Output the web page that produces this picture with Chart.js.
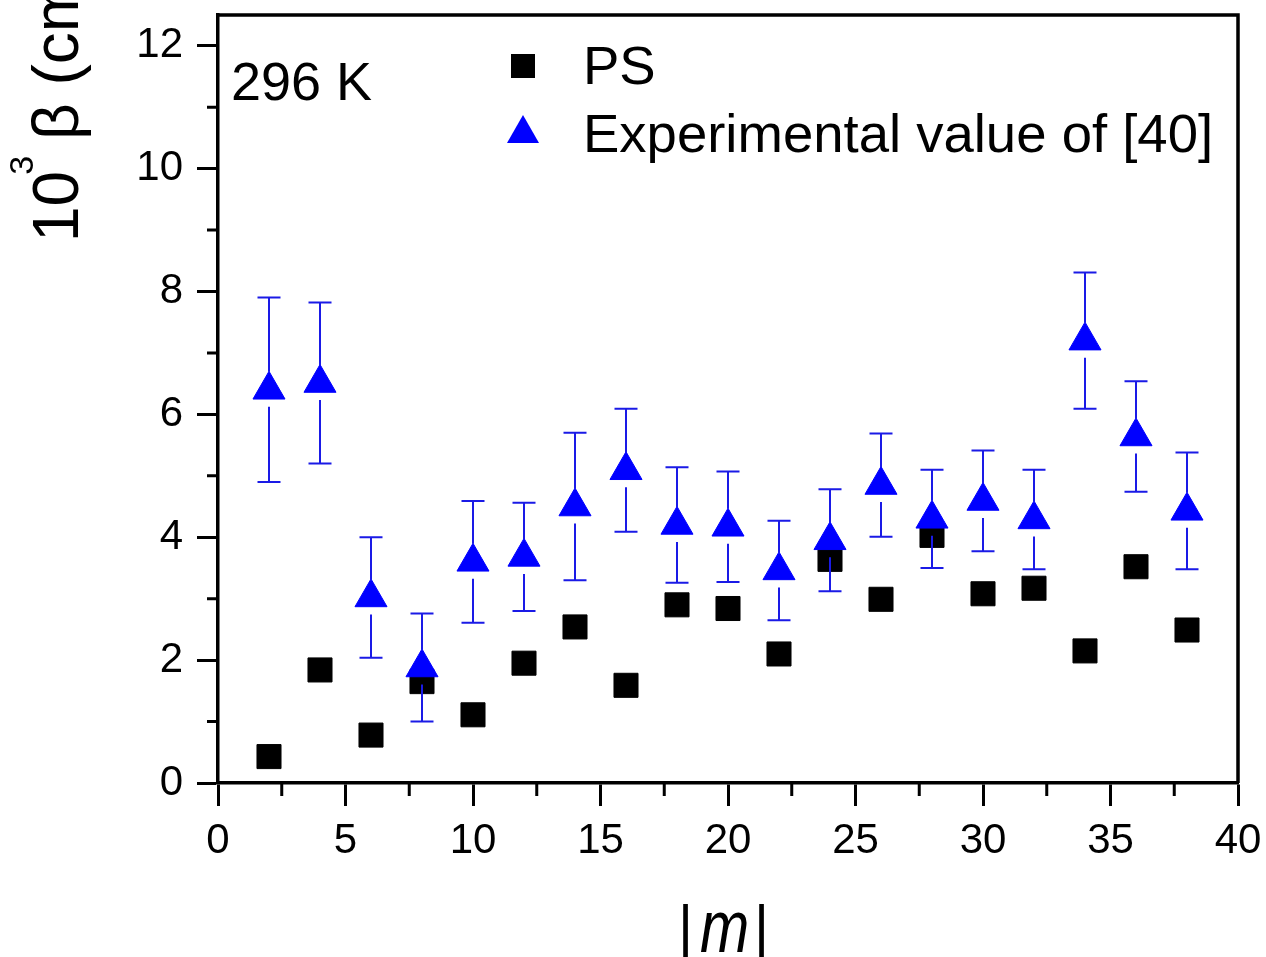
<!DOCTYPE html>
<html>
<head>
<meta charset="utf-8">
<title>beta vs |m|</title>
<script src="https://cdn.jsdelivr.net/npm/chart.js@4.4.0/dist/chart.umd.min.js"></script>
<style>
    html, body { margin: 0; padding: 0; background: #fff; }
    #wrap { width: 1266px; height: 957px; }
</style>
</head>
<body>
<div id="wrap"><canvas id="betaChart" width="1266" height="957"></canvas></div>
<script>
// |m| values and line-broadening coefficients (10^3 beta)
const mValues = [2, 4, 6, 8, 10, 12, 14, 16, 18, 20, 22, 24, 26, 28, 30, 32, 34, 36, 38];
const psBeta = [0.43, 1.84, 0.78, 1.65, 1.11, 1.95, 2.54, 1.59, 2.90, 2.84, 2.10, 3.64, 2.99, 4.03, 3.08, 3.17, 2.15, 3.52, 2.49];
const expBeta = [6.40, 6.51, 3.02, 1.88, 3.60, 3.68, 4.50, 5.09, 4.20, 4.17, 3.46, 3.95, 4.85, 4.30, 4.59, 4.29, 7.20, 5.64, 4.43];
const expError = [1.50, 1.31, 0.98, 0.88, 0.99, 0.88, 1.20, 1.00, 0.94, 0.90, 0.81, 0.83, 0.84, 0.80, 0.82, 0.81, 1.11, 0.90, 0.95];

// axis ticks
const xTicks = [0, 5, 10, 15, 20, 25, 30, 35, 40];
const xMinorTicks = [2.5, 7.5, 12.5, 17.5, 22.5, 27.5, 32.5, 37.5];
const yTicks = [0, 2, 4, 6, 8, 10, 12];
const yMinorTicks = [1, 3, 5, 7, 9, 11];

const seriesLabels = ['PS', 'Experimental value of [40]'];
const tempLabel = '296 K';

const FONT = '"Liberation Sans", Arial, sans-serif';
const BLUE = '#0000ff';

// error bars, drawn from the y scale
const errorBars = {
    id: 'errorBars',
    afterDatasetsDraw(chart) {
        const { ctx, scales: { x, y } } = chart;
        ctx.save();
        ctx.strokeStyle = '#1a1ae6';
        ctx.lineWidth = 2;
        mValues.forEach((m, i) => {
            const px = x.getPixelForValue(m);
            const pv = y.getPixelForValue(expBeta[i]);
            const pt = y.getPixelForValue(expBeta[i] + expError[i]);
            const pb = y.getPixelForValue(expBeta[i] - expError[i]);
            ctx.beginPath();
            ctx.moveTo(px, pt);
            ctx.lineTo(px, pv - 18);
            ctx.moveTo(px, pv + 17);
            ctx.lineTo(px, pb);
            ctx.moveTo(px - 11.5, pt);
            ctx.lineTo(px + 11.5, pt);
            ctx.moveTo(px - 11.5, pb);
            ctx.lineTo(px + 11.5, pb);
            ctx.stroke();
        });
        ctx.restore();
    }
};

// minor ticks, top/right frame, legend and titles
const decorations = {
    id: 'decorations',
    afterDraw(chart) {
        const { ctx, chartArea: a, scales: { x, y } } = chart;
        ctx.save();
        ctx.strokeStyle = '#000';

        // minor ticks
        ctx.lineWidth = 3;
        ctx.beginPath();
        xMinorTicks.forEach(v => {
            const px = x.getPixelForValue(v);
            ctx.moveTo(px, a.bottom);
            ctx.lineTo(px, a.bottom + 13);
        });
        yMinorTicks.forEach(v => {
            const py = y.getPixelForValue(v);
            ctx.moveTo(a.left, py);
            ctx.lineTo(a.left - 11, py);
        });
        ctx.stroke();

        // frame
        ctx.lineWidth = 3.5;
        ctx.beginPath();
        ctx.moveTo(a.left - 1.5, a.top);
        ctx.lineTo(a.right, a.top);
        ctx.lineTo(a.right, a.bottom);
        ctx.stroke();

        // temperature label
        ctx.fillStyle = '#000';
        ctx.font = '54px ' + FONT;
        ctx.textBaseline = 'alphabetic';
        ctx.textAlign = 'left';
        ctx.fillText(tempLabel, 231, 100);

        // legend
        ctx.font = '54.5px ' + FONT;
        ctx.fillRect(511, 54, 24, 24);
        ctx.fillText(seriesLabels[0], 583, 84);
        ctx.fillStyle = BLUE;
        ctx.beginPath();
        ctx.moveTo(523, 115);
        ctx.lineTo(539, 143);
        ctx.lineTo(507, 143);
        ctx.closePath();
        ctx.fill();
        ctx.fillStyle = '#000';
        ctx.fillText(seriesLabels[1], 583, 152);

        // x title |m|
        ctx.font = '58px ' + FONT;
        ctx.fillText('|', 678, 946);
        ctx.fillText('|', 754, 946);
        ctx.save();
        ctx.translate(700, 952);
        ctx.scale(0.8, 1);
        ctx.font = 'italic 74px ' + FONT;
        ctx.fillText('m', 0, 0);
        ctx.restore();

        // y title, rotated
        ctx.save();
        ctx.translate(78, 242);
        ctx.rotate(-Math.PI / 2);
        ctx.font = '64px ' + FONT;
        ctx.fillText('10', 0, 0);
        let w = ctx.measureText('10').width;
        ctx.font = '34px ' + FONT;
        ctx.fillText('3', w - 4, -45);
        w += ctx.measureText('3').width;
        ctx.font = '64px ' + FONT;
        ctx.fillText(' \u03B2 (cm\u207B\u00B9 atm\u207B\u00B9)', w - 6, 0);
        ctx.restore();

        ctx.restore();
    }
};

// keep the plot box fixed: no extra room for edge labels
function fixPadding(scale) {
    scale.paddingTop = 0;
    scale.paddingBottom = 0;
    scale.paddingLeft = 0;
    scale.paddingRight = 0;
}

const ctx = document.getElementById('betaChart');

new Chart(ctx, {
    type: 'scatter',
    data: {
        datasets: [
            {
                label: seriesLabels[0],
                data: mValues.map((m, i) => ({ x: m, y: psBeta[i] })),
                pointStyle: 'rect',
                pointRadius: 17,
                backgroundColor: '#000',
                borderColor: '#000',
                borderWidth: 1,
                order: 2
            },
            {
                label: seriesLabels[1],
                data: mValues.map((m, i) => ({ x: m, y: expBeta[i] })),
                pointStyle: 'triangle',
                pointRadius: 18.5,
                backgroundColor: BLUE,
                borderColor: BLUE,
                borderWidth: 1,
                order: 1
            }
        ]
    },
    options: {
        responsive: false,
        animation: false,
        events: [],
        layout: {
            autoPadding: false,
            padding: { top: 15, right: 28, left: 0, bottom: 0 }
        },
        plugins: {
            legend: { display: false },
            tooltip: { enabled: false }
        },
        scales: {
            x: {
                type: 'linear',
                min: 0,
                max: 40,
                afterBuildTicks: scale => { scale.ticks = xTicks.map(v => ({ value: v })); },
                afterFit: scale => { scale.height = 174; fixPadding(scale); },
                border: { display: true, color: '#000', width: 3.5 },
                grid: {
                    drawOnChartArea: false,
                    drawTicks: true,
                    tickLength: 23,
                    tickWidth: 3,
                    color: '#000'
                },
                ticks: {
                    color: '#000',
                    padding: 10,
                    maxRotation: 0,
                    font: { family: FONT, size: 42 }
                }
            },
            y: {
                type: 'linear',
                min: 0,
                max: 12.5,
                afterBuildTicks: scale => { scale.ticks = yTicks.map(v => ({ value: v })); },
                afterFit: scale => { scale.width = 218; fixPadding(scale); },
                border: { display: true, color: '#000', width: 3.5 },
                grid: {
                    drawOnChartArea: false,
                    drawTicks: true,
                    tickLength: 21,
                    tickWidth: 3,
                    color: '#000'
                },
                ticks: {
                    color: '#000',
                    padding: 14,
                    font: { family: FONT, size: 42 }
                }
            }
        }
    },
    plugins: [errorBars, decorations]
});
</script>
</body>
</html>
